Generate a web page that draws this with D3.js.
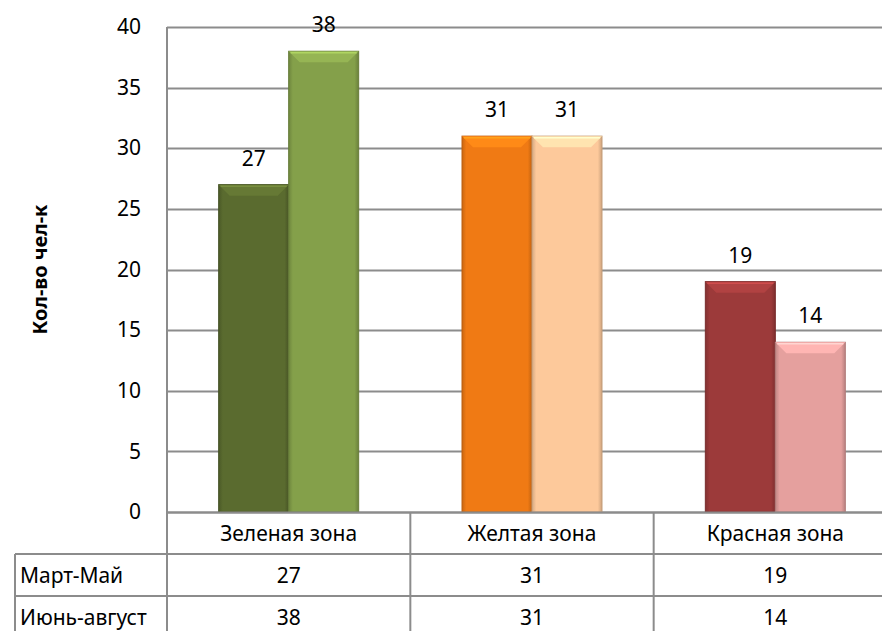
<!DOCTYPE html>
<html>
<head>
<meta charset="utf-8">
<script src="https://cdn.jsdelivr.net/npm/d3@7"></script>
<style>
  body { margin: 0; background: #fff; }
  svg { font-family: "Noto Sans", "Open Sans", sans-serif; }
</style>
</head>
<body>
<div class="chart"></div>
<script>
// chart data
var categories = ["Зеленая зона", "Желтая зона", "Красная зона"];
var seriesNames = ["Март-Май", "Июнь-август"];
var marchMay = [27, 31, 19];
var juneAugust = [38, 31, 14];
var yTicks = [0, 5, 10, 15, 20, 25, 30, 35, 40];

var colors = [
  ["#5a6b2f", "#84a04a"],
  ["#f07a14", "#fdc99b"],
  ["#9c3a3a", "#e5a09e"]
];

var svgWidth = 882;
var svgHeight = 631;

var margin = { top: 27, left: 167 };
var plotRight = 897;
var plotBottom = 512;
var rowH = 42;
var fs = "21px";

var svg = d3.select(".chart").append("svg")
  .attr("width", svgWidth)
  .attr("height", svgHeight);

var defs = svg.append("defs");

var x = d3.scaleBand()
  .domain(categories)
  .range([margin.left, plotRight]);

var y = d3.scaleLinear()
  .domain([0, 40])
  .range([plotBottom, margin.top]);

var gridColor = "#8c8c8c";

// gridlines
svg.append("g").selectAll("line")
  .data(yTicks)
  .enter().append("line")
  .attr("x1", margin.left)
  .attr("x2", plotRight)
  .attr("y1", d => Math.round(y(d)) + 0.5)
  .attr("y2", d => Math.round(y(d)) + 0.5)
  .attr("stroke", gridColor)
  .attr("stroke-width", 2);

// y axis tick labels
var leftAxis = d3.axisLeft(y).tickValues(yTicks).tickSize(0).tickPadding(0);
var yAxis = svg.append("g")
  .attr("transform", `translate(${margin.left - 26}, 0)`)
  .call(leftAxis);
yAxis.select(".domain").remove();
yAxis.selectAll("text")
  .attr("font-size", fs)
  .attr("fill", "#000")
  .attr("font-family", "Noto Sans");

// y axis title
svg.append("text")
  .attr("transform", `translate(47, ${(margin.top + plotBottom) / 2}) rotate(-90)`)
  .attr("text-anchor", "middle")
  .attr("font-size", "20px")
  .attr("font-weight", "bold")
  .text("Кол-во чел-к");

// bars
var barW = 70;
var pairs = categories.map((c, i) => ({ cat: c, i: i, vals: [marchMay[i], juneAugust[i]] }));

function gradId(ci, si) { return `g${ci}_${si}`; }

pairs.forEach(function (p) {
  p.vals.forEach(function (v, si) {
    var col = d3.color(colors[p.i][si]);
    var g = defs.append("linearGradient").attr("id", gradId(p.i, si))
      .attr("x1", 0).attr("x2", 1).attr("y1", 0).attr("y2", 0);
    g.append("stop").attr("offset", "0").attr("stop-color", col.darker(0.5));
    g.append("stop").attr("offset", "0.06").attr("stop-color", col);
    g.append("stop").attr("offset", "0.94").attr("stop-color", col);
    g.append("stop").attr("offset", "1").attr("stop-color", col.darker(0.6));
  });
});

var groups = svg.append("g").selectAll("g")
  .data(pairs)
  .enter().append("g");

groups.each(function (p) {
  var gsel = d3.select(this);
  var cx = x(p.cat) + x.bandwidth() / 2;
  p.vals.forEach(function (v, si) {
    var x0 = cx - barW + si * barW;
    var top = y(v);
    var col = d3.color(colors[p.i][si]);
    gsel.append("rect")
      .attr("x", x0)
      .attr("y", top)
      .attr("width", barW)
      .attr("height", plotBottom - top)
      .attr("fill", `url(#${gradId(p.i, si)})`)
      .attr("stroke", col.darker(0.7))
      .attr("stroke-width", 1);
    // top bevel
    var bev = 11;
    gsel.append("path")
      .attr("d", `M${x0},${top} L${x0 + barW},${top} L${x0 + barW - bev},${top + bev} L${x0 + bev},${top + bev} Z`)
      .attr("fill", col.brighter(0.35));
    gsel.append("line")
      .attr("x1", x0 + 2).attr("x2", x0 + barW - 2)
      .attr("y1", top + 1.5).attr("y2", top + 1.5)
      .attr("stroke", col.brighter(0.8)).attr("stroke-width", 1.5);
    // value label
    gsel.append("text")
      .attr("x", x0 + barW / 2)
      .attr("y", top - 19)
      .attr("text-anchor", "middle")
      .attr("font-size", fs)
      .text(v);
  });
});

// data table
var tbl = svg.append("g");
var lineColor = "#8c8c8c";
function hline(y0, x1, x2) {
  tbl.append("line").attr("x1", x1).attr("x2", x2).attr("y1", y0).attr("y2", y0)
    .attr("stroke", lineColor).attr("stroke-width", 2);
}
function vline(x0, y1, y2) {
  tbl.append("line").attr("x1", x0).attr("x2", x0).attr("y1", y1).attr("y2", y2)
    .attr("stroke", lineColor).attr("stroke-width", 2);
}

hline(plotBottom + 0.5, margin.left, plotRight);
hline(plotBottom + rowH, 15, plotRight);
hline(plotBottom + 2 * rowH, 15, plotRight);
hline(plotBottom + 3 * rowH, 15, plotRight);
vline(margin.left, margin.top, plotBottom + 3 * rowH);
vline(15, plotBottom + rowH, plotBottom + 3 * rowH);
categories.forEach(function (c) {
  vline(x(c) + x.bandwidth(), plotBottom, plotBottom + 3 * rowH);
});

tbl.selectAll(".cat")
  .data(categories)
  .enter().append("text")
  .attr("x", d => x(d) + x.bandwidth() / 2)
  .attr("y", plotBottom + rowH / 2 + 8)
  .attr("text-anchor", "middle")
  .attr("font-size", fs)
  .text(d => d);

var rows = [marchMay, juneAugust];
rows.forEach(function (vals, ri) {
  var ry = plotBottom + (ri + 1) * rowH + rowH / 2 + 8;
  tbl.append("text")
    .attr("x", 20)
    .attr("y", ry)
    .attr("font-size", fs)
    .text(seriesNames[ri]);
  tbl.selectAll(".v" + ri)
    .data(vals)
    .enter().append("text")
    .attr("x", (d, i) => x(categories[i]) + x.bandwidth() / 2)
    .attr("y", ry)
    .attr("text-anchor", "middle")
    .attr("font-size", fs)
    .text(d => d);
});
</script>
</body>
</html>
